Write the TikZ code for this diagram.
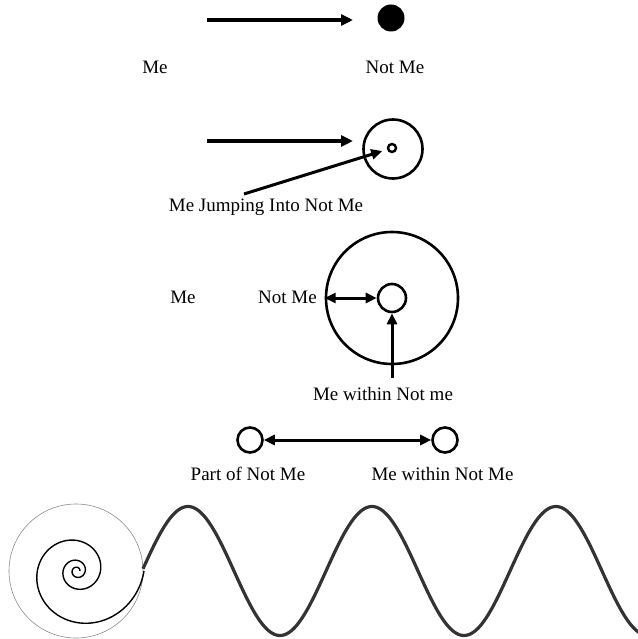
\documentclass[tikz,border=0pt]{standalone}
\usepackage{fontspec}
\setmainfont{Liberation Serif}
\usetikzlibrary{arrows.meta}
\begin{document}
\begin{tikzpicture}[x=1pt,y=-1pt,
  lbl/.style={anchor=base,inner sep=0pt,font=\fontsize{19}{22}\selectfont},
  thickarrow/.style={line width=3.5pt,-{Triangle[length=12pt,width=11pt]}},
  midarrow/.style={line width=3pt,-{Triangle[length=11pt,width=10pt]}},
  dblarrow/.style={line width=3pt,{Triangle[length=11pt,width=10pt]}-{Triangle[length=11pt,width=10pt]}},
  ring/.style={circle,draw,line width=2.6pt,inner sep=0pt},
  wave/.style={line width=3.2pt,black!80,line join=round},
  spiralline/.style={line width=1.4pt,black},
  outline/.style={line width=0.6pt,black!45}]
\useasboundingbox (0,0) rectangle (637,639);
% Row 1
\coordinate (a1s) at (207,20);
\coordinate (a1e) at (353,20);
\draw[thickarrow] (a1s) -- (a1e);
\node[circle,fill=black,inner sep=0pt,minimum size=27pt] (dot) at (391,18) {};
\node[lbl] (me1) at (155,74) {Me};
\node[lbl] (notme1) at (395,74) {Not Me};
% Row 2
\coordinate (a2s) at (207,141);
\coordinate (a2e) at (353,141);
\draw[thickarrow] (a2s) -- (a2e);
\node[ring,minimum size=59pt] (c2) at (393,149) {};
\node[ring,line width=2.4pt,minimum size=8pt] (t2) at (392,148) {};
\coordinate (j2) at (244,194);
\draw[midarrow,shorten >=5pt] (j2) -- (t2);
\node[lbl] (jump) at (266,211) {Me Jumping Into Not Me};
% Row 3
\node[ring,minimum size=132pt] (big3) at (392,298) {};
\node[ring,minimum size=28pt] (small3) at (392,298) {};
\draw[dblarrow] (big3.west) -- (small3.west);
\coordinate (v3) at (392,378);
\draw[midarrow] (v3) -- (small3.south);
\node[lbl] (me3) at (183,303) {Me};
\node[lbl] (notme3) at (287.5,303) {Not Me};
\node[lbl] (within3) at (383,400) {Me within Not me};
% Row 4
\node[ring,minimum size=25pt] (p4) at (250,440) {};
\node[ring,minimum size=25pt] (q4) at (445,440) {};
\draw[dblarrow] (p4) -- (q4);
\node[lbl] (part4) at (248,480) {Part of Not Me};
\node[lbl] (within4) at (442.5,480) {Me within Not Me};
% Row 5
\draw[outline] (76,571) circle[radius=67];
\draw[spiralline] plot[domain=-1080:0,samples=400,smooth]
  ({77+67*exp(0.167*\x/57.2958)*cos(\x)},{571-67*exp(0.167*\x/57.2958)*sin(\x)});
\draw[wave] plot[domain=143:640,samples=250,smooth]
  (\x,{571-64.5*cos((\x-188)/184*360)});
\end{tikzpicture}
\end{document}
